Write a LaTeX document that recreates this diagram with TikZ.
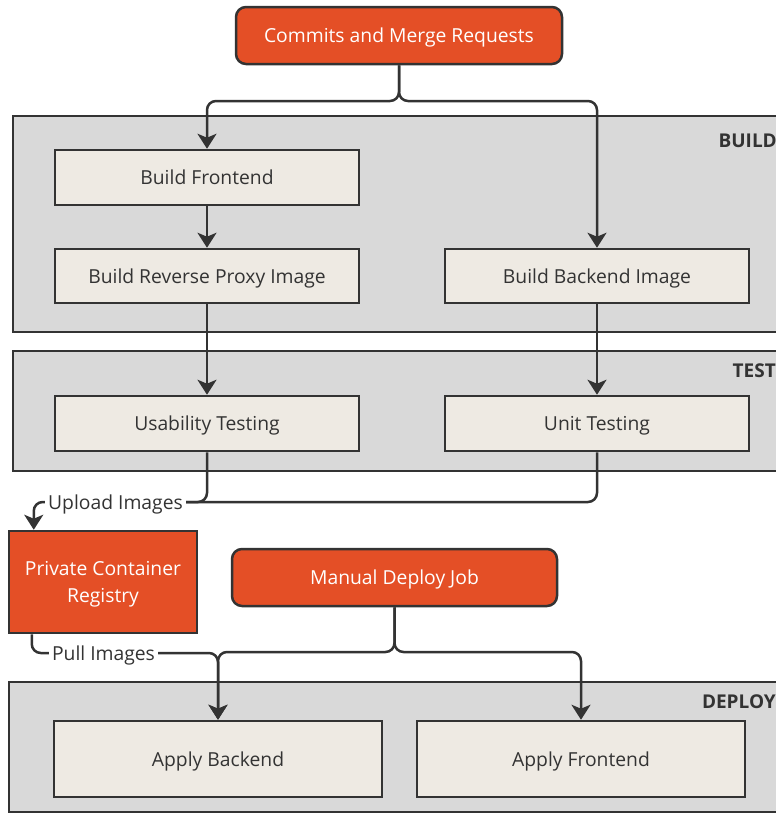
\documentclass[tikz,border=0pt]{standalone}
\usepackage{fontspec}
\setmainfont{Open Sans}
\usetikzlibrary{arrows.meta}

\definecolor{edge}{HTML}{333333}
\definecolor{ink}{HTML}{333333}
\definecolor{stagefill}{HTML}{D9D9D9}
\definecolor{jobfill}{HTML}{EEEAE3}
\definecolor{accent}{HTML}{E44F26}

\tikzset{
  stage/.style={draw=edge, line width=2.5pt, fill=stagefill},
  stagelabel/.style={anchor=east, text=ink, font=\fontsize{19}{22}\selectfont\bfseries, inner sep=0pt},
  job/.style={draw=edge, line width=2.5pt, fill=jobfill, text=ink,
    font=\fontsize{19.3}{27}\selectfont, inner sep=0pt, text depth=0pt},
  trigger/.style={draw=edge, line width=2.5pt, fill=accent, text=white,
    font=\fontsize{19.3}{27}\selectfont, inner sep=0pt, align=center, text depth=0pt},
  tag/.style={text=ink, font=\fontsize{19.3}{27}\selectfont, inner sep=3pt, text depth=0pt},
  wire/.style={draw=edge, line width=2.5pt, rounded corners=9pt},
  flow/.style={wire, -{Stealth[length=15pt, width=19pt, inset=4pt]}}
}

\begin{document}
\begin{tikzpicture}[x=1pt, y=-1pt]
  \useasboundingbox (0,0) rectangle (776,814);
  \clip (0,0) rectangle (776,814);

  % pipeline stages
  \draw[stage] (13,116) rectangle (800,332);
  \draw[stage] (13,351) rectangle (800,471);
  \draw[stage] (9,682) rectangle (800,812);
  \node[stagelabel] (lbuild) at (777,141) {BUILD};
  \node[stagelabel] (ltest) at (776,371) {TEST};
  \node[stagelabel] (ldeploy) at (776,702) {DEPLOY};

  % triggers and registry
  \node[trigger, rounded corners=10pt, minimum width=326pt, minimum height=57pt]
    (cmr) at (399,35.5) {Commits and Merge Requests};
  \node[trigger, rounded corners=10pt, minimum width=325pt, minimum height=57pt]
    (mdj) at (394.5,577.5) {Manual Deploy Job};
  \node[trigger, minimum width=188pt, minimum height=102pt]
    (reg) at (103,582) {Private Container\\Registry};

  % jobs
  \node[job, minimum width=304pt, minimum height=55pt] (bf)  at (207,177.5) {Build Frontend};
  \node[job, minimum width=304pt, minimum height=54pt] (brp) at (207,276) {Build Reverse Proxy Image};
  \node[job, minimum width=304pt, minimum height=54pt] (bbi) at (597,276) {Build Backend Image};
  \node[job, minimum width=304pt, minimum height=55pt] (usa) at (207,423.5) {Usability Testing};
  \node[job, minimum width=304pt, minimum height=55pt] (uni) at (597,423.5) {Unit Testing};
  \node[job, minimum width=328pt, minimum height=76pt] (ab)  at (218,759) {Apply Backend};
  \node[job, minimum width=328pt, minimum height=76pt] (af)  at (581,759) {Apply Frontend};

  % connector labels
  \node[tag] (upl) at (115.5,502) {Upload Images};
  \node[tag] (pul) at (103.5,653) {Pull Images};

  % split points
  \coordinate (s1) at (0,101);
  \coordinate (s2) at (0,652);

  % build fan-out
  \draw[flow] (cmr.south) -- (cmr.south |- s1) -| (bf.north);
  \draw[flow] (cmr.south) -- (cmr.south |- s1) -| (bbi.north);
  \draw[flow] (bf) -- (brp);
  \draw[flow] (brp) -- (usa);
  \draw[flow] (bbi) -- (uni);

  % upload to registry
  \draw[wire] (usa.south) |- (upl.east);
  \draw[wire] (uni.south) |- (upl.east);
  \draw[flow] (upl.west) -| ([xshift=26pt]reg.north west);

  % pull and deploy fan-out
  \draw[wire] ([xshift=24pt]reg.south west) |- (pul.west);
  \draw[flow] (pul.east) -| (ab.north);
  \draw[flow] (mdj.south) -- (mdj.south |- s2) -| (ab.north);
  \draw[flow] (mdj.south) -- (mdj.south |- s2) -| (af.north);
\end{tikzpicture}
\end{document}
